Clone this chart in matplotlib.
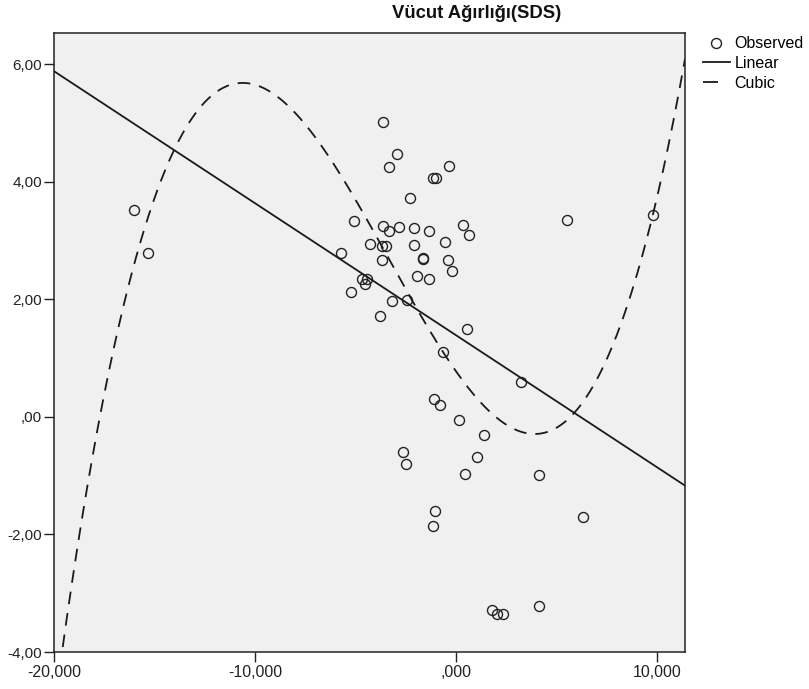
import matplotlib.pyplot as plt
import numpy as np

plt.rcParams['font.family'] = ['Liberation Sans', 'DejaVu Sans']

# Observed points (x, y)
obs_x = [-16020, -15320, -3650, -2950, -3320, -350, -1120, -1000, -2270, -5060,
         -3620, -3320, -2820, -2070, -1330, 330, 630, -4280, -3670, -3480,
         -2090, -560, -5720, -1660, -1630, -3700, -380, -180, -1940, -1330,
         -4690, -4440, -4530, -5240, -3170, -2440, -3770, 530, -660, 3220,
         -1110, -800, 150, 1380, -2650, -2490, 1030, 450, 4140, -1030,
         -1130, 6300, 1790, 2020, 2350, 4140, 5520, 9800]
obs_y = [3.52, 2.79, 5.01, 4.47, 4.25, 4.26, 4.06, 4.06, 3.72, 3.33,
         3.25, 3.16, 3.23, 3.22, 3.16, 3.26, 3.10, 2.94, 2.90, 2.90,
         2.93, 2.97, 2.78, 2.71, 2.68, 2.66, 2.66, 2.48, 2.39, 2.35,
         2.35, 2.35, 2.26, 2.13, 1.97, 1.99, 1.72, 1.49, 1.11, 0.60,
         0.31, 0.21, -0.06, -0.31, -0.60, -0.80, -0.69, -0.97, -0.99, -1.60,
         -1.85, -1.70, -3.28, -3.35, -3.35, -3.21, 3.35, 3.44]

# Fitted models (x in thousands for the cubic)
linear_coef = [1.39, -0.0002245]              # b0, b1
cubic_coef = [0.777, -0.4856, 0.03910, 0.003893]  # b0..b3, x/1000

xticks = [-20000, -10000, 0, 10000]
xtick_labels = ["-20,000", "-10,000", ",000", "10,000"]
yticks = [-4, -2, 0, 2, 4, 6]
ytick_labels = ["-4,00", "-2,00", ",00", "2,00", "4,00", "6,00"]

fig = plt.figure(figsize=(8.09, 6.89), dpi=100)
ax = fig.add_axes([54 / 809, 1 - 652 / 689, (685 - 54) / 809, (652 - 33) / 689])
ax.set_facecolor("#f0f0f0")

xs = np.linspace(-20000, 11400, 600)
lin = linear_coef[0] + linear_coef[1] * xs
u = xs / 1000
cub = cubic_coef[0] + cubic_coef[1] * u + cubic_coef[2] * u ** 2 + cubic_coef[3] * u ** 3

ax.plot(obs_x, obs_y, "o", mfc="none", mec="#222222", ms=7.2, mew=1.0, label="Observed")
ax.plot(xs, lin, "-", color="#1a1a1a", lw=1.3, label="Linear")
ax.plot(xs, cub, color="#1a1a1a", lw=1.3, dashes=(7, 5), label="Cubic")

ax.set_xlim(-20000, 11400)
ax.set_ylim(-4, 6.53)
ax.set_xticks(xticks)
ax.set_xticklabels(xtick_labels)
ax.set_yticks(yticks)
ax.set_yticklabels(ytick_labels)
ax.tick_params(direction="out", length=7.5, width=1, labelsize=11, colors="#222222", pad=1)
ax.tick_params(axis="x", labelsize=11.5, pad=2)
for s in ax.spines.values():
    s.set_color("#222222")
    s.set_linewidth(1.1)

fig.text(477 / 809, 1 - 14 / 689, "Vücut Ağırlığı(SDS)", ha="center", va="center",
         fontsize=13.3, fontweight="bold", color="#111111")

leg = ax.legend(loc="upper left", bbox_to_anchor=(1.028, 0.995), frameon=False,
                fontsize=11.5, handlelength=1.69, handletextpad=0.31, labelspacing=0.3,
                borderaxespad=0, borderpad=0)
leg.get_lines()[2].set_dashes((8.3, 30))

fig.savefig("out.png", dpi=100)
